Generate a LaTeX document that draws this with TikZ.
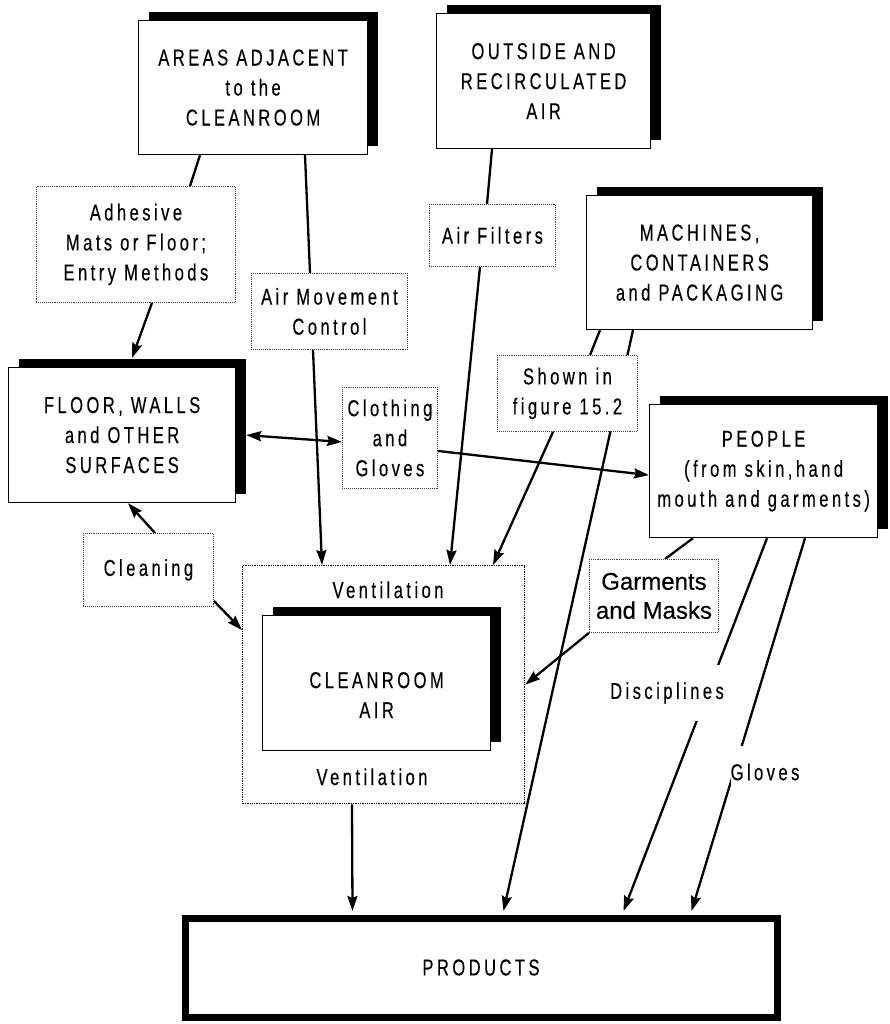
\documentclass[tikz,border=0pt]{standalone}
\usepackage{fontspec}
\setmainfont{Liberation Sans}
\newfontfamily\narrowfont[FakeStretch=0.72,LetterSpace=15,FakeBold=0.3]{Liberation Sans}
\newfontfamily\tagfont[FakeBold=0.5]{Liberation Sans}
\usetikzlibrary{arrows.meta,shadows,backgrounds}
\newcommand\boxtext{\narrowfont\fontsize{23}{30}\selectfont}
\newcommand\plaintext{\tagfont\fontsize{24}{29}\selectfont}

\tikzset{
  mainbox/.style={draw, line width=1.2pt, fill=white, anchor=north west,
    general shadow={fill=black, shadow xshift=10pt, shadow yshift=9pt},
    align=center, font=\boxtext, inner sep=0pt},
  labelbox/.style={draw=black!75, densely dotted, line width=0.9pt, fill=white,
    anchor=north west, align=center, font=\boxtext, inner sep=0pt},
  ventbox/.style={draw, densely dotted, line width=1.3pt, anchor=north west, inner sep=0pt},
  prodbox/.style={draw, line width=7pt, fill=white, anchor=north west,
    font=\boxtext, inner sep=0pt},
  tag/.style={fill=white, font=\boxtext, inner sep=0pt},
  conn/.style={line width=2.3pt},
  arr/.style={conn, -{Stealth[length=15pt,width=10pt,inset=2pt]}},
  darr/.style={conn, {Stealth[length=15pt,width=10pt,inset=2pt]}-{Stealth[length=15pt,width=10pt,inset=2pt]}}
}

\begin{document}
\begin{tikzpicture}[x=1pt,y=-1pt]
\useasboundingbox (0,0) rectangle (890,1024);

% sources
\node[mainbox, minimum width=229, minimum height=134] (areas) at (138,20)
  {AREAS ADJACENT\\to the\\CLEANROOM};
\node[mainbox, minimum width=214, minimum height=135] (outside) at (436,13)
  {OUTSIDE AND\\RECIRCULATED\\AIR};
\node[mainbox, minimum width=226, minimum height=134] (machines) at (586,195)
  {MACHINES,\\CONTAINERS\\and PACKAGING};
\node[mainbox, minimum width=227, minimum height=135] (floor) at (8,367)
  {FLOOR, WALLS\\and OTHER\\SURFACES};
\node[mainbox, minimum width=228, minimum height=133] (people) at (649,404)
  {PEOPLE\\(from skin,hand\\mouth and garments)};

% cleanroom air with its ventilation envelope
\node[ventbox, minimum width=282, minimum height=238] (vent) at (242,565) {};
\node[font=\boxtext, anchor=base] (venttop) at (388,598) {Ventilation};
\node[font=\boxtext, anchor=base] (ventbot) at (372,785) {Ventilation};
\node[mainbox, minimum width=228, minimum height=135] (air) at (262,615)
  {\rule{0pt}{40pt}CLEANROOM\\AIR};

% products
\node[prodbox, minimum width=592, minimum height=99] (products) at (181.5,914.5)
  {PRODUCTS};

% control measures
\node[labelbox, minimum width=199, minimum height=116] (adhesive) at (36,186)
  {Adhesive\\Mats or Floor;\\Entry Methods};
\node[labelbox, minimum width=156, minimum height=76] (airmove) at (251,273)
  {Air Movement\\Control};
\node[labelbox, minimum width=126, minimum height=62] (filters) at (429,204)
  {Air Filters};
\node[labelbox, minimum width=140, minimum height=76] (shown) at (497,355)
  {Shown in\\figure 15.2};
\node[labelbox, minimum width=95, minimum height=101] (clothing) at (342,387)
  {Clothing\\and\\Gloves};
\node[labelbox, minimum width=130, minimum height=73] (cleaning) at (83,533)
  {Cleaning};
\node[labelbox, minimum width=129, minimum height=73, font=\plaintext] (garments) at (589,559)
  {Garments\\and Masks};
\node[tag, minimum height=56] (disc) at (667,693) {Disciplines};
\node[tag, minimum height=52] (gloves) at (765,772) {Gloves};

\begin{scope}[on background layer]
  % adjacent areas
  \draw[conn] ([xshift=62pt]areas.south west) -- ([xshift=154pt]adhesive.north west);
  \draw[arr] ([xshift=116pt]adhesive.south west) -- ([xshift=124pt,yshift=9pt]floor.north west);
  \draw[conn] ([xshift=167pt]areas.south west) -- ([xshift=59pt]airmove.north west);
  \draw[arr] ([xshift=62pt]airmove.south west) -- ([xshift=80pt]vent.north west);
  % outside air
  \draw[conn] ([xshift=56pt]outside.south west) -- ([xshift=58pt]filters.north west);
  \draw[arr] ([xshift=51pt]filters.south west) -- ([xshift=208pt]vent.north west);
  % machines
  \draw[conn] ([xshift=14pt]machines.south west) -- ([xshift=93pt]shown.north west);
  \draw[arr] ([xshift=56pt]shown.south west) -- ([xshift=251pt]vent.north west);
  \draw[arr] ([xshift=47pt]machines.south west) -- ([xshift=322pt,yshift=3.5pt]products.north west);
  % surfaces
  \draw[darr] ([xshift=10pt]floor.east) -- ([yshift=-4pt]clothing.west);
  \draw[arr] ([yshift=-13pt]clothing.east) -- ([yshift=-4pt]people.west);
  \draw[arr] ([xshift=72pt]cleaning.north west) -- ([xshift=120pt]floor.south west);
  \draw[arr] ([yshift=6pt]cleaning.south east) -- ([yshift=-65pt]vent.north west);
  % people
  \draw[conn] ([xshift=44pt]people.south west) -- ([xshift=76pt]garments.north west);
  \draw[arr] (garments.south west) -- (vent.east);
  \draw[arr] ([xshift=118pt]people.south west) -- ([xshift=442pt,yshift=3.5pt]products.north west);
  \draw[arr] ([xshift=156pt]people.south west) -- ([xshift=510pt,yshift=3.5pt]products.north west);
  % cleanroom air to products
  \draw[arr] ([xshift=110pt]vent.south west) -- ([xshift=171pt,yshift=3.5pt]products.north west);
\end{scope}
\end{tikzpicture}
\end{document}
